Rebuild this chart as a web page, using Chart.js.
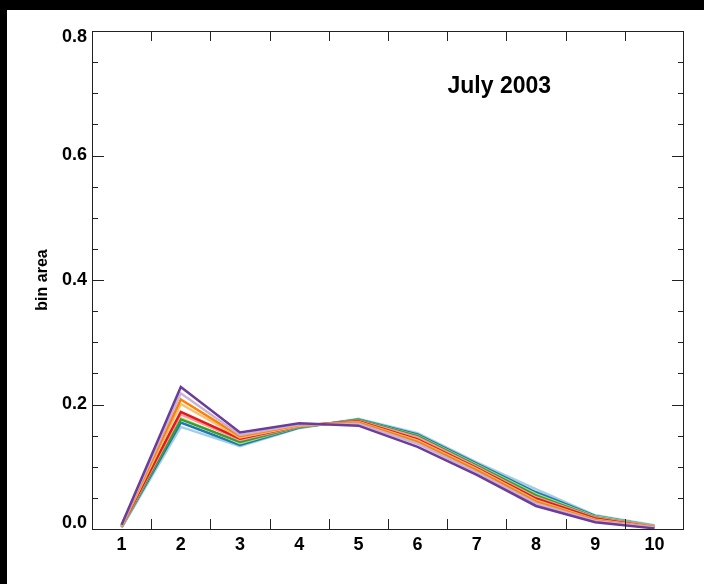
<!DOCTYPE html>
<html>
<head>
<meta charset="utf-8">
<script src="https://cdn.jsdelivr.net/npm/chart.js@4/dist/chart.umd.min.js"></script>
<style>
  html { margin: 0; padding: 0; background: #fff; }
  body { margin: 0; padding: 0; background: #fff; width: 704px; height: 584px; overflow: hidden; }
  #c { position: absolute; left: 0; top: 0; display: block; }
  #topbar { position: absolute; left: 0; top: 0; width: 704px; height: 10px; background: #000; }
  #leftbar { position: absolute; left: 0; top: 0; width: 7px; height: 584px; background: #000; }
  #rightfill { position: absolute; left: 690px; top: 10px; width: 14px; height: 574px; background: #fff; }
  #bottomfill { position: absolute; left: 7px; top: 562px; width: 697px; height: 22px; background: #fff; }
</style>
</head>
<body>
<canvas id="c" width="704" height="584"></canvas>
<div id="topbar"></div>
<div id="leftbar"></div>
<div id="rightfill"></div>
<div id="bottomfill"></div>
<script>
// ---- data ----
const categories = [1, 2, 3, 4, 5, 6, 7, 8, 9, 10];
const yTickLabels = [0.0, 0.2, 0.4, 0.6, 0.8];
const xTickMarks = [1.5, 2.5, 3.5, 4.5, 5.5, 6.5, 7.5, 8.5, 9.5];
const yMinorMarks = [0.05, 0.1, 0.15, 0.25, 0.3, 0.35, 0.45, 0.5, 0.55, 0.65, 0.7, 0.75];
const chartTitle = 'July 2003';
const yAxisTitle = 'bin area';

const s01_lightBlue   = [0.002, 0.164, 0.133, 0.162, 0.177, 0.154, 0.107, 0.064, 0.022, 0.006];
const s02_blue        = [0.003, 0.171, 0.135, 0.163, 0.176, 0.152, 0.105, 0.059, 0.021, 0.005];
const s03_lightGreen  = [0.003, 0.178, 0.138, 0.164, 0.175, 0.150, 0.103, 0.056, 0.020, 0.005];
const s04_green       = [0.004, 0.176, 0.140, 0.164, 0.175, 0.149, 0.102, 0.054, 0.019, 0.004];
const s05_pink        = [0.004, 0.184, 0.143, 0.165, 0.174, 0.147, 0.100, 0.051, 0.018, 0.004];
const s06_red         = [0.005, 0.188, 0.145, 0.166, 0.173, 0.144, 0.098, 0.049, 0.017, 0.003];
const s07_lightOrange = [0.005, 0.201, 0.147, 0.166, 0.172, 0.142, 0.096, 0.046, 0.015, 0.003];
const s08_orange      = [0.006, 0.208, 0.149, 0.167, 0.171, 0.140, 0.094, 0.044, 0.014, 0.002];
const s09_lightPurple = [0.006, 0.218, 0.151, 0.168, 0.169, 0.137, 0.091, 0.041, 0.013, 0.002];
const s10_purple      = [0.007, 0.228, 0.155, 0.170, 0.166, 0.132, 0.087, 0.037, 0.011, 0.001];

const seriesList = [s01_lightBlue, s02_blue, s03_lightGreen, s04_green, s05_pink,
                    s06_red, s07_lightOrange, s08_orange, s09_lightPurple, s10_purple];
const seriesColors = ['#a6cee3', '#1f78b4', '#b2df8a', '#33a02c', '#fb9a99',
                      '#e31a1c', '#fdbf6f', '#ff7f00', '#cab2d6', '#6a3d9a'];

// Chart.js draws the first dataset on top: purple drawn last -> put it first.
const datasets = seriesList.map((vals, i) => ({
  data: vals.map((v, k) => ({ x: categories[k], y: v })),
  borderColor: seriesColors[i],
  backgroundColor: seriesColors[i],
  borderWidth: 2.5,
  pointRadius: 0,
  tension: 0,
  fill: false,
  order: seriesList.length - i
})).reverse();

const FONT = "'Liberation Sans', Arial, Helvetica, sans-serif";

const framePlugin = {
  id: 'frame',
  beforeDraw(chart) {
    const { ctx, width, height } = chart;
    ctx.save();
    ctx.fillStyle = '#fff';
    ctx.fillRect(0, 0, width, height);
    ctx.restore();
  },
  afterDatasetsDraw(chart) {
    const { ctx, chartArea: a, scales: { x, y } } = chart;
    ctx.save();
    ctx.strokeStyle = '#222';
    ctx.lineWidth = 1;
    ctx.strokeRect(Math.round(a.left) + 0.5, Math.round(a.top) + 0.5,
                   Math.round(a.right - a.left) - 1, Math.round(a.bottom - a.top));
    ctx.beginPath();
    xTickMarks.forEach(v => {
      const px = Math.round(x.getPixelForValue(v)) + 0.5;
      ctx.moveTo(px, a.bottom); ctx.lineTo(px, a.bottom - 10);
      ctx.moveTo(px, a.top); ctx.lineTo(px, a.top + 10);
    });
    yTickLabels.forEach(v => {
      const py = Math.round(y.getPixelForValue(v)) + 0.5;
      ctx.moveTo(a.left, py); ctx.lineTo(a.left + 12, py);
      ctx.moveTo(a.right, py); ctx.lineTo(a.right - 12, py);
    });
    yMinorMarks.forEach(v => {
      const py = Math.round(y.getPixelForValue(v)) + 0.5;
      ctx.moveTo(a.left, py); ctx.lineTo(a.left + 6, py);
      ctx.moveTo(a.right, py); ctx.lineTo(a.right - 6, py);
    });
    ctx.stroke();
    // title inside the plot
    ctx.fillStyle = '#000';
    ctx.font = 'bold 23px ' + FONT;
    ctx.textAlign = 'center';
    ctx.textBaseline = 'alphabetic';
    ctx.fillText(chartTitle, x.getPixelForValue(7.38), y.getPixelForValue(0.70));
    ctx.restore();
  }
};

const yMin = yTickLabels[0], yMax = yTickLabels[yTickLabels.length - 1];

new Chart(document.getElementById('c'), {
  type: 'line',
  data: { datasets },
  options: {
    responsive: false,
    animation: false,
    devicePixelRatio: 1,
    layout: { padding: { top: 31, right: 20, left: 7, bottom: 0 } },
    plugins: { legend: { display: false }, tooltip: { enabled: false }, title: { display: false } },
    scales: {
      x: {
        type: 'linear',
        min: 0.5, max: 10.5,
        afterBuildTicks: s => { s.ticks = categories.map(v => ({ value: v })); },
        afterFit: s => { s.height = 55; },
        grid: { display: false, drawTicks: false },
        border: { display: false },
        ticks: {
          color: '#000', padding: 5, autoSkip: false, maxRotation: 0,
          font: { family: FONT, size: 18, weight: 'bold' },
          callback: v => String(v)
        }
      },
      y: {
        type: 'linear',
        min: yMin, max: yMax,
        afterBuildTicks: s => { s.ticks = yTickLabels.map(v => ({ value: v })); },
        afterFit: s => { s.width = 85; },
        grid: { display: false, drawTicks: false },
        border: { display: false },
        ticks: {
          color: '#000', padding: 5, autoSkip: false,
          font: ctx => ({ family: FONT, size: 18, weight: 'bold',
                          lineHeight: (ctx.tick && (ctx.tick.value === yMin || ctx.tick.value === yMax)) ? '12px' : 1.2 }),
          callback: v => {
            const t = Number(v).toFixed(1);
            if (v === yMax) return ['', t];
            if (v === yMin) return [t, ''];
            return t;
          }
        },
        title: {
          display: true, text: yAxisTitle, color: '#000',
          font: { family: FONT, size: 16, weight: 'bold' },
          padding: { top: 26, bottom: 0 }
        }
      }
    }
  },
  plugins: [framePlugin]
});
</script>
</body>
</html>
